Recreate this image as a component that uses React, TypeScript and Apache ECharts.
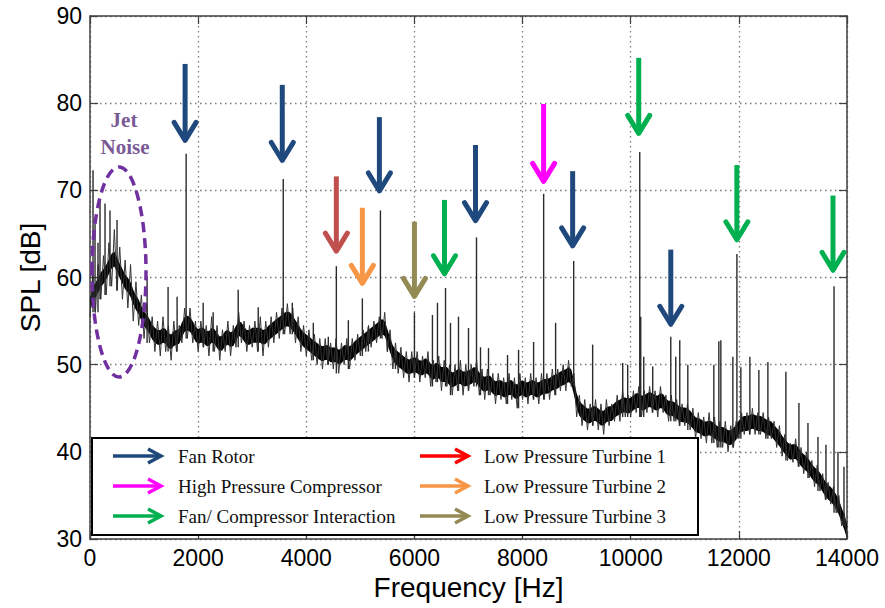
import React, { useEffect, useRef } from "react";
import * as echarts from "echarts";

// ---------- data ----------
const FREQ_MIN = 0;
const FREQ_MAX = 14000;
const FREQ_TICK = 2000;
const SPL_MIN = 30;
const SPL_MAX = 90;
const SPL_TICK = 10;

// broadband spectrum, one value every 50 Hz (0 .. 14000 Hz)
const BAND_STEP_HZ = 50;
const BAND_DB = [
  // 0 - 950
  55.5, 60.5, 56.0, 61.5, 57.5, 62.5, 58.0, 64.0, 59.0, 65.5, 58.5, 63.5, 57.5, 62.0, 56.5, 61.5, 55.0, 59.5, 54.5, 58.0,
  // 1000 - 1950
  53.0, 57.0, 52.5, 55.5, 51.5, 55.0, 51.0, 55.5, 51.5, 54.5, 50.5, 55.0, 51.5, 54.5, 52.5, 56.5, 53.0, 56.5, 52.5, 55.0,
  // 2000 - 2950
  51.5, 55.0, 52.0, 54.5, 51.0, 55.5, 51.5, 54.5, 50.5, 54.0, 51.5, 55.0, 51.0, 54.5, 52.0, 56.0, 52.5, 55.0, 51.5, 54.5,
  // 3000 - 3950
  52.0, 55.0, 51.5, 55.5, 51.0, 55.0, 52.0, 55.5, 52.5, 56.0, 53.0, 56.5, 53.5, 57.0, 53.5, 56.5, 52.5, 55.5, 51.5, 54.5,
  // 4000 - 4950
  51.0, 54.0, 50.5, 53.5, 50.0, 53.0, 49.5, 53.0, 50.0, 52.5, 49.5, 53.0, 49.0, 52.5, 50.0, 53.0, 49.5, 53.0, 50.5, 53.5,
  // 5000 - 5950
  51.0, 54.0, 51.5, 54.5, 52.0, 55.0, 52.5, 55.5, 53.0, 56.0, 51.5, 54.0, 49.5, 52.5, 49.0, 52.0, 48.5, 51.5, 48.0, 51.5,
  // 6000 - 6950
  48.5, 51.5, 48.0, 51.0, 48.5, 51.5, 47.5, 50.5, 48.0, 51.0, 47.0, 50.5, 47.5, 50.0, 46.5, 50.0, 47.0, 50.5, 46.5, 50.0,
  // 7000 - 7950
  47.0, 50.0, 47.5, 50.5, 46.5, 49.5, 46.0, 49.5, 46.5, 49.0, 45.5, 49.0, 46.0, 48.5, 45.5, 49.0, 46.0, 48.5, 45.0, 49.0,
  // 8000 - 8950
  46.0, 48.5, 45.5, 49.0, 46.0, 48.5, 45.5, 49.0, 46.0, 49.0, 46.0, 49.5, 46.5, 49.5, 47.0, 50.0, 47.0, 50.5, 47.5, 49.0,
  // 9000 - 9950
  44.0, 46.5, 43.0, 46.0, 42.5, 45.5, 43.0, 46.0, 42.5, 45.5, 42.0, 46.0, 43.0, 45.5, 43.5, 46.5, 43.5, 47.0, 44.0, 46.5,
  // 10000 - 10950
  44.0, 47.0, 44.5, 47.5, 44.0, 47.0, 44.5, 47.5, 44.5, 47.0, 44.0, 47.5, 44.5, 46.5, 43.5, 46.5, 43.5, 46.0, 43.0, 45.5,
  // 11000 - 11950
  43.0, 45.5, 42.5, 45.0, 41.5, 44.5, 41.5, 44.0, 41.0, 44.5, 41.0, 44.0, 40.5, 43.5, 40.5, 43.5, 40.0, 43.0, 40.5, 43.5,
  // 12000 - 12950
  41.5, 44.5, 42.0, 44.5, 42.0, 45.0, 42.0, 44.5, 42.0, 44.5, 41.5, 44.0, 41.5, 43.5, 40.5, 43.0, 39.5, 42.0, 39.0, 41.0,
  // 13000 - 14000
  38.8, 41.5, 38.3, 40.5, 37.5, 40.0, 37.0, 39.0, 36.0, 38.5, 35.5, 37.5, 34.5, 36.5, 34.0, 36.0, 33.0, 35.0, 31.5, 33.0, 30.2,
];

// tonal spikes: frequency [Hz] and peak level [dB]
const SPIKE_FREQ = [
  56, 93, 148, 185, 278, 370, 500, 1056, 1444, 1611, 1778, 2093, 2278, 2741, 3111, 3574, 3741,
  4130, 4407, 4556, 4778, 5037, 5148, 5371, 5500, 5648, 6000, 6333, 6426, 6575, 6667, 6815,
  7000, 7148, 7222, 7370, 7722, 7926, 8204, 8390, 8611, 8945, 9296, 9852, 9944, 10167, 10185,
  10241, 10407, 10741, 10833, 10907, 11056, 11537, 11630, 11667, 11889, 11964, 12037, 12204,
  12370, 12537, 12870, 13111, 13278, 13463, 13611, 13760, 13833, 13944,
];
const SPIKE_PEAK = [
  72.3, 66.2, 64.0, 69.0, 68.5, 67.7, 66.6, 60.1, 58.9, 57.8, 74.2, 57.1, 56.0, 58.6, 56.6, 71.3, 57.1,
  54.8, 53.2, 61.3, 55.1, 57.6, 54.3, 67.7, 52.8, 51.7, 56.0, 55.7, 57.1, 58.8, 54.8, 55.5,
  54.2, 64.6, 52.0, 51.9, 51.1, 51.7, 52.6, 69.6, 54.8, 61.9, 52.3, 50.2, 50.0, 74.4, 55.5,
  50.9, 49.8, 53.2, 50.9, 52.8, 50.0, 50.0, 52.7, 52.8, 50.9, 62.7, 49.7, 50.9,
  49.4, 50.3, 49.2, 45.6, 43.3, 41.7, 40.8, 59.0, 40.0, 38.3,
];

// annotation arrows: frequency, tail level, tip level, source group
const ARROW_FREQ = [1759, 3556, 4556, 5037, 5352, 6000, 6556, 7130, 8389, 8926, 10148, 10741, 11963, 13741];
const ARROW_TAIL_DB = [84.5, 82.1, 71.6, 68.0, 78.4, 66.4, 68.9, 75.2, 79.9, 72.2, 85.2, 63.2, 72.9, 69.4];
const ARROW_TIP_DB = [75.5, 73.2, 62.8, 59.1, 69.7, 57.6, 60.2, 66.3, 70.8, 63.4, 76.3, 54.4, 64.1, 60.6];
const ARROW_GROUP = [0, 0, 3, 4, 0, 5, 2, 0, 1, 0, 2, 0, 2, 2];

const GROUP_LABELS = [
  "Fan Rotor",
  "High Pressure Compressor",
  "Fan/ Compressor Interaction",
  "Low Pressure Turbine 1",
  "Low Pressure Turbine 2",
  "Low Pressure Turbine 3",
];
const GROUP_ARROW_COLORS = ["#1f497d", "#ff00ff", "#00b050", "#c0504d", "#f79646", "#948a54"];
const GROUP_LEGEND_COLORS = ["#1f497d", "#ff00ff", "#00b050", "#ff0000", "#f79646", "#948a54"];

// ---------- chart ----------
function buildOption() {
  const n = BAND_DB.length;
  const band = BAND_DB.map((v, i) => [i * BAND_STEP_HZ, v]);
  // dense core of the noise band (smoothed centre of the measured trace)
  const core = BAND_DB.map((v, i) => {
    const a = BAND_DB[Math.max(0, i - 1)];
    const b = BAND_DB[Math.min(n - 1, i + 1)];
    return (a + 2 * v + b) / 4;
  });
  const spikes = SPIKE_FREQ.map((f, i) => {
    const idx = Math.min(Math.floor(f / BAND_STEP_HZ), n - 2);
    const base = Math.min(BAND_DB[idx], BAND_DB[idx + 1]);
    return [f, base, SPIKE_PEAK[i]];
  });
  const arrows = ARROW_FREQ.map((f, i) => [f, ARROW_TAIL_DB[i], ARROW_TIP_DB[i], ARROW_GROUP[i]]);

  const axisColor = "#404040";
  const tickFont = { fontFamily: "Liberation Sans", fontSize: 23, color: "#000" };
  const splitLine = {
    show: true,
    lineStyle: { color: "#7a7a7a", width: 1.3, type: [1.5, 3.5] as any },
  };

  const legendEls: any[] = [
    {
      type: "rect",
      shape: { x: 92, y: 438, width: 606, height: 97 },
      style: { fill: "#fff", stroke: "#000", lineWidth: 2 },
      z: 100,
    },
  ];
  GROUP_LABELS.forEach((label, i) => {
    const col = i < 3 ? 0 : 1;
    const row = i % 3;
    const x0 = col === 0 ? 113 : 420;
    const tx = col === 0 ? 178 : 484;
    const y = 456 + row * 30;
    const c = GROUP_LEGEND_COLORS[i];
    legendEls.push({
      type: "line",
      shape: { x1: x0, y1: y, x2: x0 + 46, y2: y },
      style: { stroke: c, lineWidth: 3.5 },
      z: 101,
    });
    legendEls.push({
      type: "polyline",
      shape: { points: [[x0 + 35, y - 7], [x0 + 48, y], [x0 + 35, y + 7]] },
      style: { stroke: c, lineWidth: 3.5, fill: "transparent", lineJoin: "miter" },
      z: 101,
    });
    legendEls.push({
      type: "text",
      x: tx,
      y: y,
      style: {
        text: label,
        font: '19px "Liberation Serif"',
        fill: "#111",
        verticalAlign: "middle",
        align: "left",
      },
      z: 101,
    });
  });

  const fmt = (v: number) => String(v);

  return {
    animation: false,
    backgroundColor: "#fff",
    grid: { left: 90, right: 38, top: 16, bottom: 69, containLabel: false },
    xAxis: [
      {
        type: "value",
        min: FREQ_MIN,
        max: FREQ_MAX,
        interval: FREQ_TICK,
        position: "bottom",
        name: "Frequency [Hz]",
        nameLocation: "middle",
        nameGap: 33,
        nameTextStyle: { fontFamily: "Liberation Sans", fontSize: 28, color: "#000" },
        axisLine: { show: true, onZero: false, lineStyle: { color: axisColor, width: 1.5 } },
        axisTick: { show: true, inside: true, length: 8, lineStyle: { color: axisColor, width: 1.2 } },
        axisLabel: { ...tickFont, margin: 7, formatter: fmt },
        splitLine,
      },
      {
        type: "value",
        min: FREQ_MIN,
        max: FREQ_MAX,
        interval: FREQ_TICK,
        position: "top",
        axisLine: { show: true, onZero: false, lineStyle: { color: axisColor, width: 1.5 } },
        axisTick: { show: true, inside: true, length: 8, lineStyle: { color: axisColor, width: 1.2 } },
        axisLabel: { show: false },
        splitLine: { show: false },
      },
    ],
    yAxis: [
      {
        type: "value",
        min: SPL_MIN,
        max: SPL_MAX,
        interval: SPL_TICK,
        position: "left",
        name: "SPL [dB]",
        nameLocation: "middle",
        nameGap: 46,
        nameTextStyle: { fontFamily: "Liberation Sans", fontSize: 28, color: "#000" },
        axisLine: { show: true, onZero: false, lineStyle: { color: axisColor, width: 1.5 } },
        axisTick: { show: true, inside: true, length: 8, lineStyle: { color: axisColor, width: 1.2 } },
        axisLabel: { ...tickFont, margin: 8, formatter: fmt },
        splitLine,
      },
      {
        type: "value",
        min: SPL_MIN,
        max: SPL_MAX,
        interval: SPL_TICK,
        position: "right",
        axisLine: { show: true, onZero: false, lineStyle: { color: axisColor, width: 1.5 } },
        axisTick: { show: true, inside: true, length: 8, lineStyle: { color: axisColor, width: 1.2 } },
        axisLabel: { show: false },
        splitLine: { show: false },
      },
    ],
    series: [
      {
        type: "custom",
        xAxisIndex: 0,
        yAxisIndex: 0,
        data: [[0, 0]],
        clip: true,
        silent: true,
        z: 2,
        renderItem: (_p: any, api: any) => {
          const top = core.map((c, i) => api.coord([i * BAND_STEP_HZ, c + 0.85]));
          const bot = core.map((c, i) => api.coord([i * BAND_STEP_HZ, c - 0.85])).reverse();
          return {
            type: "polygon",
            shape: { points: top.concat(bot) },
            style: { fill: "#000" },
          };
        },
      },
      {
        type: "line",
        xAxisIndex: 0,
        yAxisIndex: 0,
        data: band,
        showSymbol: false,
        symbol: "none",
        lineStyle: { color: "#333", width: 1 },
        silent: true,
        z: 3,
      },
      {
        type: "custom",
        xAxisIndex: 0,
        yAxisIndex: 0,
        data: spikes,
        clip: true,
        silent: true,
        z: 4,
        renderItem: (_p: any, api: any) => {
          const a = api.coord([api.value(0), api.value(1)]);
          const b = api.coord([api.value(0), api.value(2)]);
          return {
            type: "line",
            shape: { x1: a[0], y1: a[1], x2: b[0], y2: b[1] },
            style: { stroke: "#2a2a2a", lineWidth: 1.4 },
          };
        },
      },
      {
        type: "custom",
        xAxisIndex: 0,
        yAxisIndex: 0,
        data: arrows,
        silent: true,
        z: 5,
        renderItem: (_p: any, api: any) => {
          const top = api.coord([api.value(0), api.value(1)]);
          const tip = api.coord([api.value(0), api.value(2)]);
          const c = GROUP_ARROW_COLORS[api.value(3)];
          return {
            type: "group",
            children: [
              {
                type: "line",
                shape: { x1: top[0], y1: top[1], x2: tip[0], y2: tip[1] - 3 },
                style: { stroke: c, lineWidth: 5 },
              },
              {
                type: "polyline",
                shape: {
                  points: [
                    [tip[0] - 11, tip[1] - 20],
                    [tip[0], tip[1] - 2],
                    [tip[0] + 11, tip[1] - 20],
                  ],
                },
                style: { stroke: c, lineWidth: 5, fill: "transparent", lineJoin: "round", lineCap: "round" },
              },
            ],
          };
        },
      },
    ],
    graphic: [
      {
        type: "ellipse",
        shape: { cx: 119, cy: 272, rx: 27, ry: 105 },
        style: { fill: "transparent", stroke: "#7030a0", lineWidth: 3.5, lineDash: [10, 6] },
        z: 50,
      },
      {
        type: "text",
        x: 124,
        y: 120,
        style: {
          text: "Jet",
          font: 'bold 21px "Liberation Serif"',
          fill: "#7a5a96",
          align: "center",
          verticalAlign: "middle",
        },
        z: 50,
      },
      {
        type: "text",
        x: 125,
        y: 147,
        style: {
          text: "Noise",
          font: 'bold 21px "Liberation Serif"',
          fill: "#7a5a96",
          align: "center",
          verticalAlign: "middle",
        },
        z: 50,
      },
      ...legendEls,
    ],
  };
}

export default function App() {
  const ref = useRef<HTMLDivElement>(null);
  useEffect(() => {
    if (!ref.current) return;
    const chart = echarts.init(ref.current, null, { renderer: "svg" });
    chart.setOption(buildOption() as any);
    return () => chart.dispose();
  }, []);
  return (
    <div
      ref={ref}
      style={{ position: "absolute", left: 0, top: 0, width: 885, height: 608, background: "#fff" }}
    />
  );
}
